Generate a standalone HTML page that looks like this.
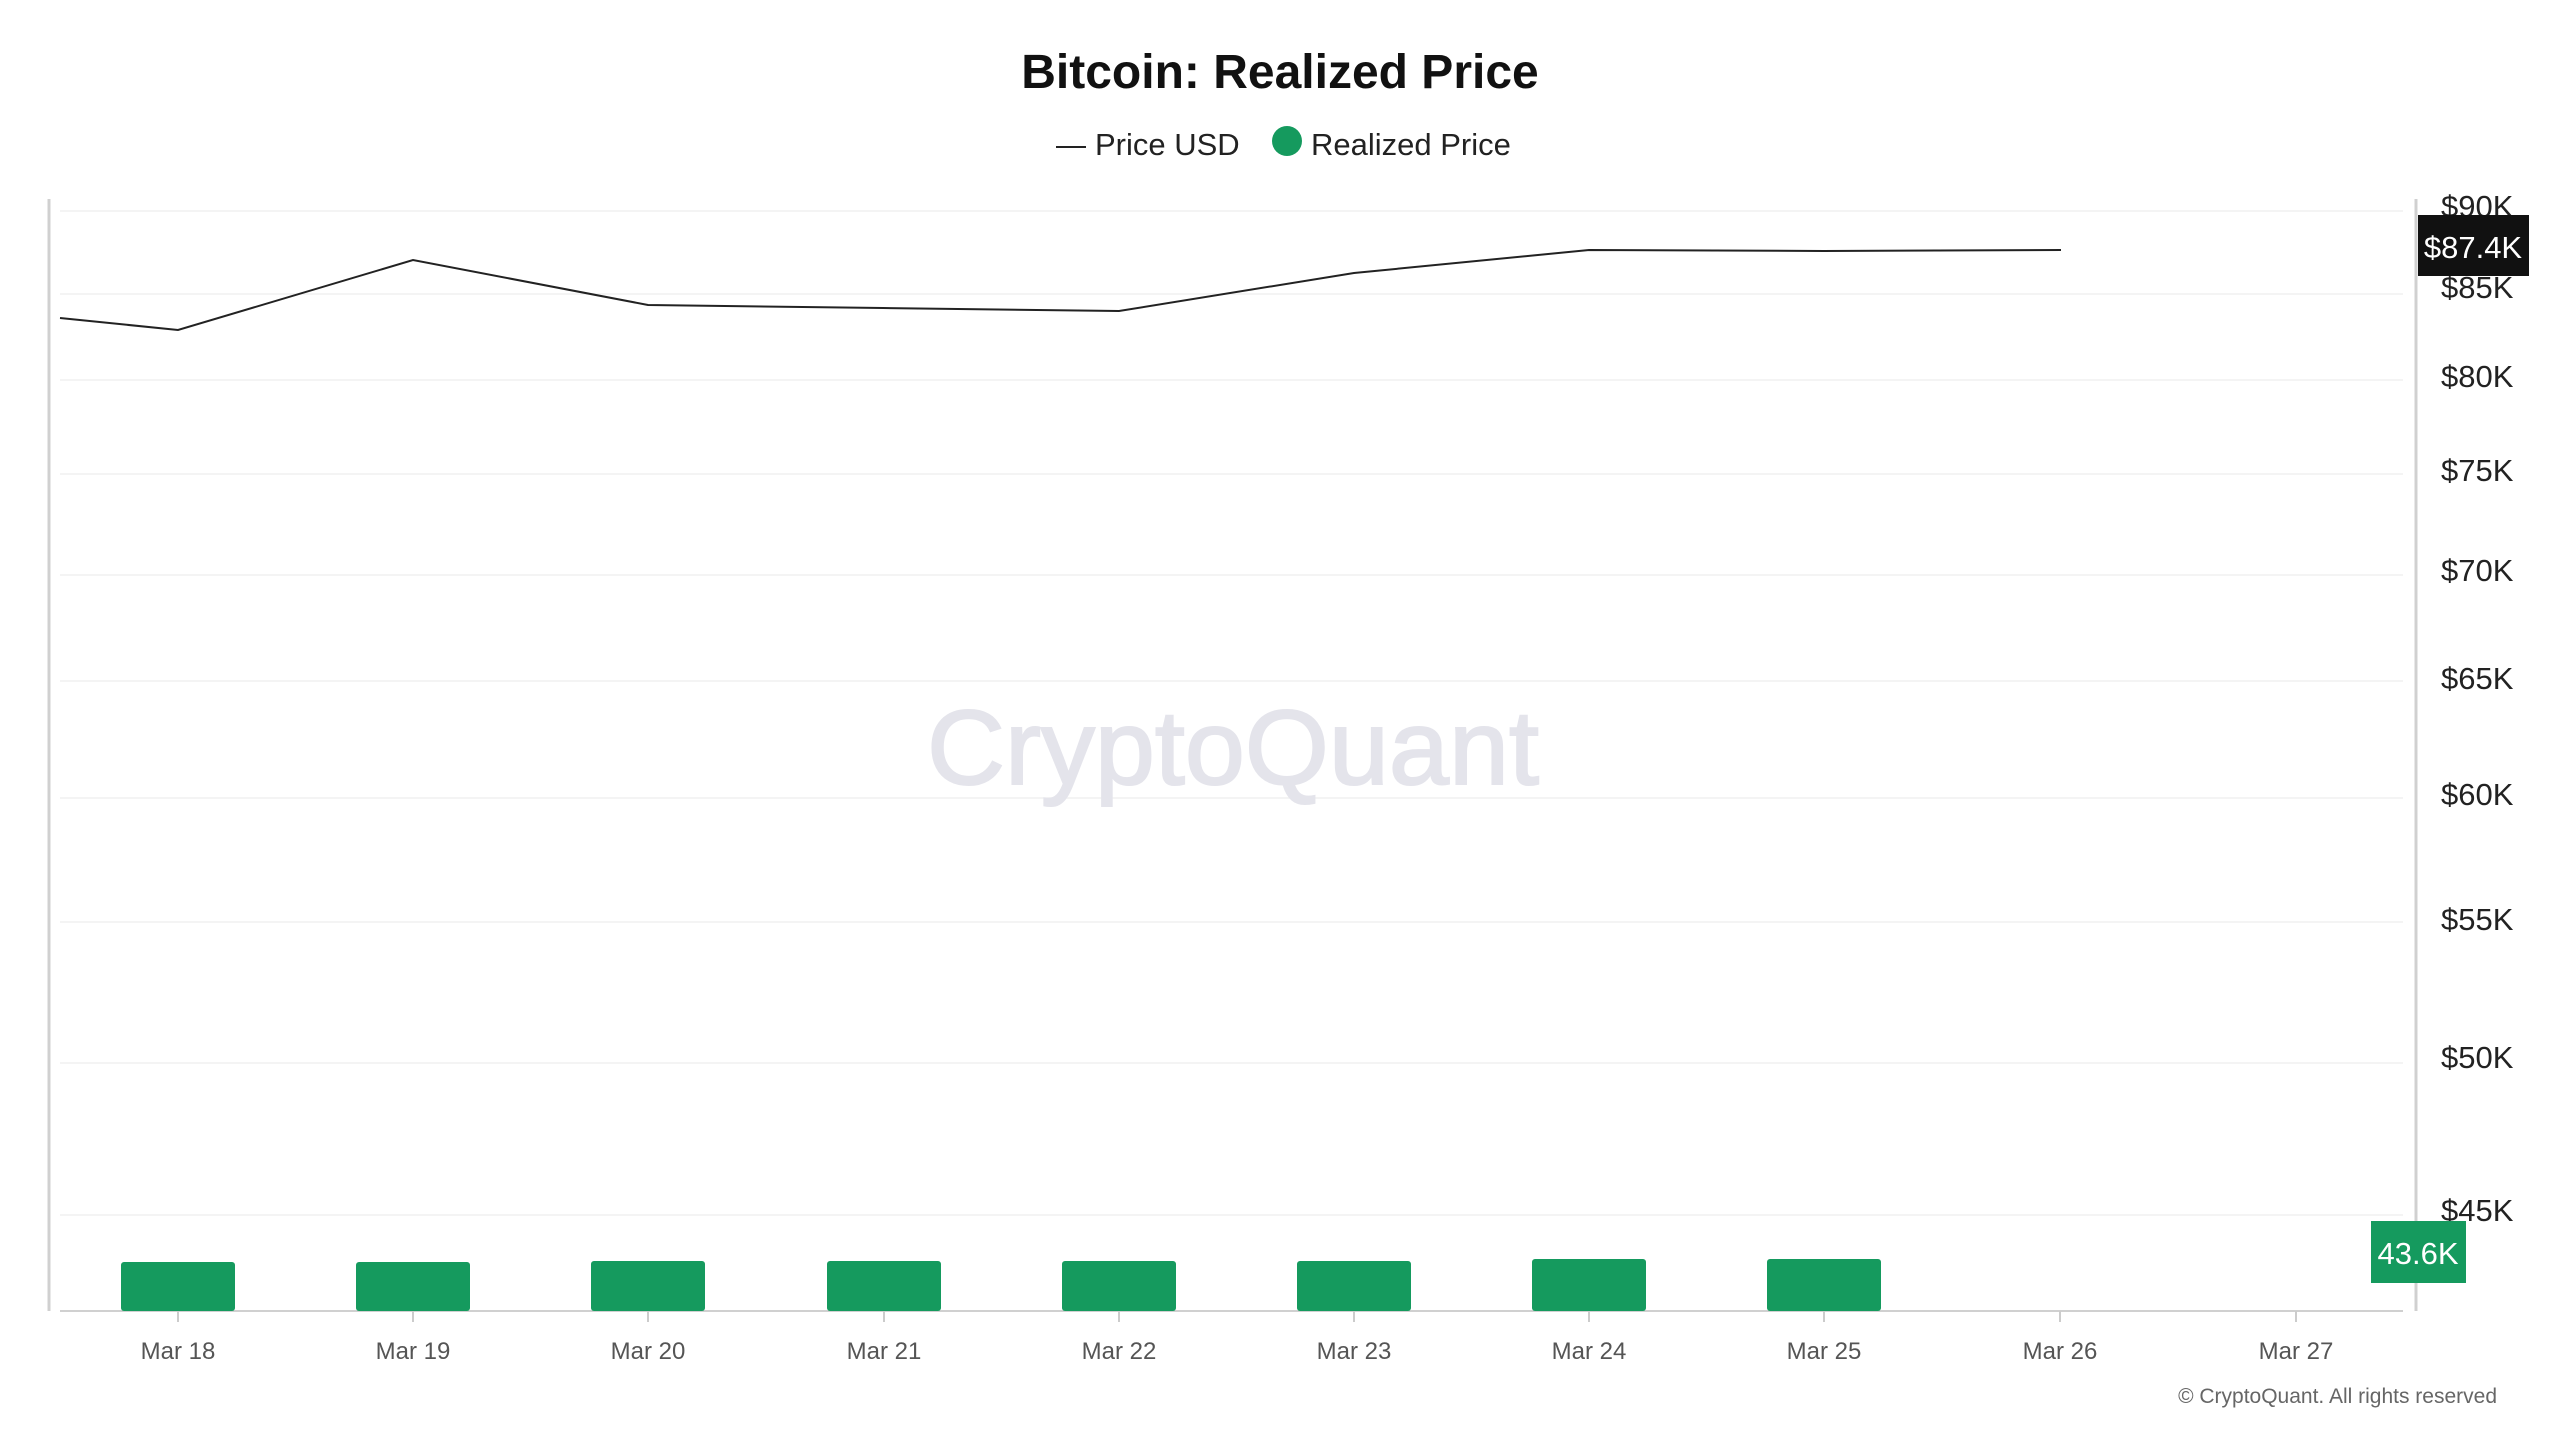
<!DOCTYPE html>
<html><head><meta charset="utf-8"><style>
html,body{margin:0;padding:0;background:#fff;}
svg{display:block;font-family:"Liberation Sans",sans-serif;}
</style></head><body>
<svg width="2560" height="1440" viewBox="0 0 2560 1440" xmlns="http://www.w3.org/2000/svg">
<rect width="2560" height="1440" fill="#fff"/>
<text x="1280" y="88" text-anchor="middle" font-size="48" font-weight="bold" fill="#111">Bitcoin: Realized Price</text>
<line x1="1056" y1="147" x2="1086" y2="147" stroke="#222" stroke-width="2"/>
<text x="1095" y="155" font-size="31" fill="#222">Price USD</text>
<circle cx="1287" cy="141" r="15" fill="#159a5e"/>
<text x="1311" y="155" font-size="31" fill="#222">Realized Price</text>
<g stroke="#f1f1f1" stroke-width="1.5">
<line x1="60" y1="211" x2="2403" y2="211"/><line x1="60" y1="294" x2="2403" y2="294"/>
<line x1="60" y1="380" x2="2403" y2="380"/><line x1="60" y1="474" x2="2403" y2="474"/>
<line x1="60" y1="575" x2="2403" y2="575"/><line x1="60" y1="681" x2="2403" y2="681"/>
<line x1="60" y1="798" x2="2403" y2="798"/><line x1="60" y1="922" x2="2403" y2="922"/>
<line x1="60" y1="1063" x2="2403" y2="1063"/><line x1="60" y1="1215" x2="2403" y2="1215"/>
</g>
<text x="1233" y="784" text-anchor="middle" font-size="106" fill="#e4e4eb" stroke="#e4e4eb" stroke-width="2" textLength="612" lengthAdjust="spacingAndGlyphs">CryptoQuant</text>
<line x1="49" y1="199" x2="49" y2="1311" stroke="#d0d0d0" stroke-width="3"/>
<line x1="2416" y1="199" x2="2416" y2="1311" stroke="#d0d0d0" stroke-width="3"/>
<line x1="60" y1="1311" x2="2403" y2="1311" stroke="#d0d0d0" stroke-width="2"/>
<g fill="#159a5e">
<rect x="121" y="1262" width="114" height="49" rx="3"/>
<rect x="356" y="1262" width="114" height="49" rx="3"/>
<rect x="591" y="1261" width="114" height="50" rx="3"/>
<rect x="827" y="1261" width="114" height="50" rx="3"/>
<rect x="1062" y="1261" width="114" height="50" rx="3"/>
<rect x="1297" y="1261" width="114" height="50" rx="3"/>
<rect x="1532" y="1259" width="114" height="52" rx="3"/>
<rect x="1767" y="1259" width="114" height="52" rx="3"/>
</g>
<polyline fill="none" stroke="#222" stroke-width="2" points="60,318 178,330 413,260 648,305 883,308 1119,311 1354,273 1589,250 1824,251 2061,250"/>
<g stroke="#ccc" stroke-width="2">
<line x1="178" y1="1311" x2="178" y2="1322"/><line x1="413" y1="1311" x2="413" y2="1322"/>
<line x1="648" y1="1311" x2="648" y2="1322"/><line x1="884" y1="1311" x2="884" y2="1322"/>
<line x1="1119" y1="1311" x2="1119" y2="1322"/><line x1="1354" y1="1311" x2="1354" y2="1322"/>
<line x1="1589" y1="1311" x2="1589" y2="1322"/><line x1="1824" y1="1311" x2="1824" y2="1322"/>
<line x1="2060" y1="1311" x2="2060" y2="1322"/><line x1="2296" y1="1311" x2="2296" y2="1322"/>
</g>
<g font-size="24" fill="#555" text-anchor="middle">
<text x="178" y="1359">Mar 18</text><text x="413" y="1359">Mar 19</text>
<text x="648" y="1359">Mar 20</text><text x="884" y="1359">Mar 21</text>
<text x="1119" y="1359">Mar 22</text><text x="1354" y="1359">Mar 23</text>
<text x="1589" y="1359">Mar 24</text><text x="1824" y="1359">Mar 25</text>
<text x="2060" y="1359">Mar 26</text><text x="2296" y="1359">Mar 27</text>
</g>
<g font-size="31" fill="#222">
<text x="2441" y="217">$90K</text><text x="2441" y="298">$85K</text>
<text x="2441" y="387">$80K</text><text x="2441" y="481">$75K</text>
<text x="2441" y="581">$70K</text><text x="2441" y="689">$65K</text>
<text x="2441" y="805">$60K</text><text x="2441" y="930">$55K</text>
<text x="2441" y="1068">$50K</text><text x="2441" y="1221">$45K</text>
</g>
<rect x="2418" y="215" width="111" height="61" fill="#111"/>
<text x="2473" y="258" text-anchor="middle" font-size="31" fill="#fff">$87.4K</text>
<rect x="2371" y="1221" width="95" height="62" fill="#159a5e"/>
<text x="2418" y="1264" text-anchor="middle" font-size="31" fill="#fff">43.6K</text>
<text x="2497" y="1403" text-anchor="end" font-size="21" fill="#666">© CryptoQuant. All rights reserved</text>
</svg>
</body></html>
